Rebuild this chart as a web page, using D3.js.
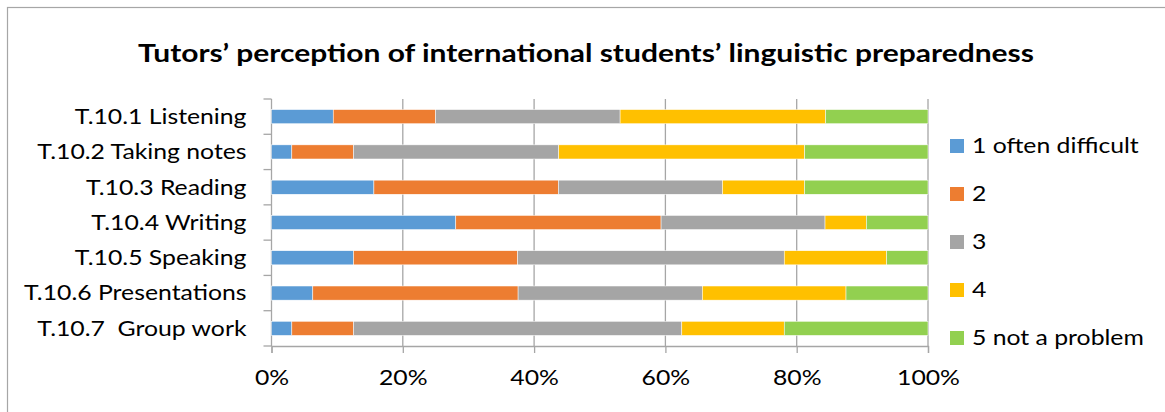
<!DOCTYPE html>
<html>
<head>
<meta charset="utf-8">
<script src="https://cdn.jsdelivr.net/npm/d3@7"></script>
<style>
  html, body { margin: 0; padding: 0; background: #fff; }
  svg { display: block; }
  text { font-family: Lato, "Open Sans", sans-serif; fill: #000; white-space: pre; }
</style>
</head>
<body>
<svg id="chart" width="1165" height="412"></svg>
<script>
// Survey items (top to bottom)
const categories = [
  "T.10.1 Listening",
  "T.10.2 Taking notes",
  "T.10.3 Reading",
  "T.10.4 Writing",
  "T.10.5 Speaking",
  "T.10.6 Presentations",
  "T.10.7  Group work"
];

// Response scale
const seriesNames = ["1 often difficult", "2", "3", "4", "5 not a problem"];
const seriesColors = ["#5B9BD5", "#ED7D31", "#A5A5A5", "#FFC000", "#92D050"];

// Share of tutors (%) giving each rating, one array per rating, in category order
const often_difficult = [9.4, 3.1, 15.6, 28.1, 12.5, 6.3, 3.1];
const rating2         = [15.6, 9.4, 28.1, 31.3, 25.0, 31.3, 9.4];
const rating3         = [28.1, 31.3, 25.0, 25.0, 40.6, 28.1, 50.0];
const rating4         = [31.3, 37.5, 12.5, 6.3, 15.6, 21.9, 15.6];
const not_a_problem   = [15.6, 18.8, 18.8, 9.4, 6.3, 12.5, 21.9];

const xTicks = [0, 0.2, 0.4, 0.6, 0.8, 1.0];

const seriesValues = [often_difficult, rating2, rating3, rating4, not_a_problem];
const rows = categories.map((c, i) => {
  const r = { category: c };
  seriesNames.forEach((s, j) => { r[s] = seriesValues[j][i]; });
  return r;
});

const svg = d3.select("#chart");
const W = 1165, H = 412;
const fontSize = "21px";
const stretch = 1.18;   // horizontal stretch applied to all text

// Outer frame of the chart area
svg.append("rect")
  .attr("x", 7.5).attr("y", 7.5)
  .attr("width", W + 10).attr("height", H + 10)
  .attr("fill", "#fff").attr("stroke", "#A6A6A6").attr("stroke-width", 1.2);

const plot = { left: 271.5, right: 928, top: 99, bottom: 346 };

const x = d3.scaleLinear().domain([0, 1]).range([plot.left, plot.right]);
const y = d3.scaleBand().domain(categories)
  .range([plot.top, plot.bottom])
  .paddingInner(0.6).paddingOuter(0.3);

const stack = d3.stack().keys(seriesNames).offset(d3.stackOffsetExpand);
const stacked = stack(rows);

const gridColor = "#A6A6A6";

// Vertical gridlines
svg.append("g").selectAll("line")
  .data(xTicks.slice(1))
  .join("line")
  .attr("x1", d => x(d)).attr("x2", d => x(d))
  .attr("y1", plot.top).attr("y2", plot.bottom)
  .attr("stroke", gridColor).attr("stroke-width", 1.3);

// Category axis line and boundary ticks
const yAxisG = svg.append("g");
yAxisG.append("line")
  .attr("x1", plot.left).attr("x2", plot.left)
  .attr("y1", plot.top).attr("y2", plot.bottom)
  .attr("stroke", gridColor).attr("stroke-width", 1.3);
const boundaries = d3.range(categories.length + 1).map(i => plot.top + i * y.step());
yAxisG.selectAll("line.tick")
  .data(boundaries)
  .join("line").attr("class", "tick")
  .attr("x1", plot.left - 8).attr("x2", plot.left)
  .attr("y1", d => d).attr("y2", d => d)
  .attr("stroke", gridColor).attr("stroke-width", 1.3);

// Stacked bars
svg.append("g").selectAll("g")
  .data(stacked)
  .join("g")
  .attr("fill", (d, i) => seriesColors[i])
  .selectAll("rect")
  .data(d => d)
  .join("rect")
  .attr("x", d => x(d[0]))
  .attr("width", d => x(d[1]) - x(d[0]))
  .attr("y", d => y(d.data.category))
  .attr("height", y.bandwidth())
  .attr("stroke", "#fff").attr("stroke-width", 0.5);

// Value axis along the bottom
const xAxis = d3.axisBottom(x)
  .tickValues(xTicks)
  .tickFormat(d3.format(".0%"))
  .tickSize(7)
  .tickPadding(17);
const xg = svg.append("g")
  .attr("transform", `translate(0,${plot.bottom})`)
  .call(xAxis);
xg.select(".domain").attr("stroke", gridColor).attr("stroke-width", 1.3);
xg.selectAll(".tick line").attr("stroke", gridColor).attr("stroke-width", 1.3);
xg.selectAll(".tick text")
  .attr("fill", "#000")
  .attr("transform", `scale(${stretch},1)`)
  .style("font-family", "Lato, sans-serif")
  .style("font-size", fontSize);

// Category labels
svg.append("g").selectAll("text")
  .data(categories)
  .join("text")
  .attr("transform", d => `translate(${plot.left - 25},${y(d) + y.bandwidth() / 2}) scale(${stretch},1)`)
  .attr("dy", "0.35em")
  .attr("text-anchor", "end")
  .style("font-size", fontSize)
  .text(d => d);

// Title
svg.append("text")
  .attr("transform", `translate(586,62) scale(${stretch},1)`)
  .attr("text-anchor", "middle")
  .style("font-size", "25.4px")
  .style("font-weight", "bold")
  .text("Tutors\u2019 perception of international students\u2019 linguistic preparedness");

// Legend
const legend = svg.append("g").selectAll("g")
  .data(seriesNames)
  .join("g")
  .attr("transform", (d, i) => `translate(950,${146 + i * 48})`);
legend.append("rect")
  .attr("x", 0).attr("y", -7)
  .attr("width", 14).attr("height", 14)
  .attr("fill", (d, i) => seriesColors[i]);
legend.append("text")
  .attr("transform", `translate(22,0) scale(${stretch},1)`)
  .attr("dy", "0.35em")
  .style("font-size", fontSize)
  .text(d => d);
</script>
</body>
</html>
